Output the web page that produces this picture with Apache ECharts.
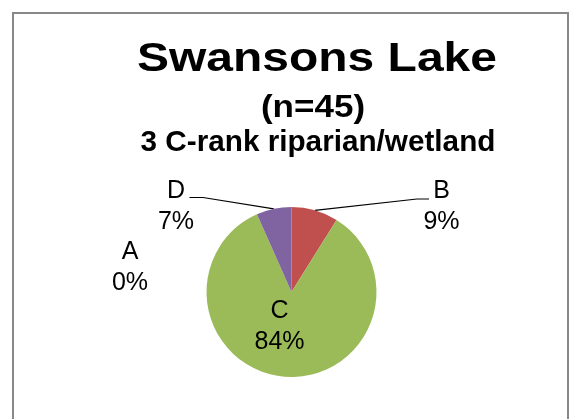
<!DOCTYPE html>
<html>
<head>
<meta charset="utf-8">
<script src="https://cdn.jsdelivr.net/npm/echarts@6/dist/echarts.min.js"></script>
<style>
  html, body { margin: 0; padding: 0; background: #fff; }
  #chart { width: 570px; height: 419px; }
</style>
</head>
<body>
<div id="chart"></div>
<script>
// Condition ranks of the sampled riparian/wetland plots
const categories = ['A', 'B', 'C', 'D'];
const counts = [0, 4, 38, 3];
const sliceColors = ['#4F81BD', '#C0504D', '#9BBB59', '#8064A2'];
const titleLines = ['Swansons Lake', '(n=45)', '3 C-rank riparian/wetland'];

const FONT = '"Liberation Sans", Arial, Helvetica, sans-serif';
const CX = 291.5, CY = 292, R = 85;

// where each label block sits, relative to the pie centre
const labelSpots = {
  A: { dx: -161.5, dy: -24 },
  B: { dx: 150, dy: -85.5, elbow: [125.5, -93], end: [137.5, -93] },
  C: { dx: -12, dy: 35 },
  D: { dx: -115.5, dy: -85.5, elbow: [-88.5, -94.5], end: [-102, -94.5] }
};

const total = counts.reduce((s, v) => s + v, 0);
// point on the rim at the middle of a slice (clockwise from 12 o'clock)
function rimPoint(idx) {
  let before = 0;
  for (let i = 0; i < idx; i++) before += counts[i];
  const mid = (before + counts[idx] / 2) / total * 2 * Math.PI;
  return [CX + R * Math.sin(mid), CY - R * Math.cos(mid)];
}

function titleText(text, x, y, size, stretch) {
  return {
    type: 'text', x: x, y: y, scaleX: stretch, silent: true,
    style: {
      text: text, font: 'bold ' + size + 'px ' + FONT, fill: '#000',
      align: 'center', verticalAlign: 'middle',
      textAlign: 'center', textVerticalAlign: 'middle'
    }
  };
}

const chart = echarts.init(document.getElementById('chart'), null, { renderer: 'canvas' });

const pieData = categories.map((name, i) => ({
  name: name,
  value: counts[i],
  itemStyle: { color: sliceColors[i] },
  label: { position: name === 'C' ? 'inside' : 'outside' },
  labelLine: { show: !!labelSpots[name].elbow }
}));

chart.setOption({
  animation: false,
  backgroundColor: '#ffffff',
  graphic: [
    {
      type: 'rect', silent: true, z: -10,
      shape: { x: 13, y: 13, width: 555, height: 440 },
      style: { fill: '#ffffff', stroke: '#888888', lineWidth: 2 }
    },
    titleText(titleLines[0], 317, 60, 41, 1.17),
    titleText(titleLines[1], 313, 108.5, 31, 1.13),
    titleText(titleLines[2], 318, 143, 30, 0.99)
  ],
  series: [{
    type: 'pie',
    center: [CX, CY],
    radius: R,
    startAngle: 90,
    clockwise: true,
    avoidLabelOverlap: false,
    percentPrecision: 0,
    itemStyle: { borderWidth: 0 },
    emphasis: { disabled: true },
    label: {
      show: true,
      formatter: '{b}\n{d}%',
      fontFamily: FONT,
      fontSize: 25,
      lineHeight: 31,
      color: '#000',
      align: 'center'
    },
    labelLine: {
      show: true,
      lineStyle: { color: '#000', width: 1.2 }
    },
    labelLayout: function (params) {
      const name = categories[params.dataIndex];
      const spot = labelSpots[name];
      const out = {
        x: CX + spot.dx,
        y: CY + spot.dy,
        align: 'center',
        verticalAlign: 'middle'
      };
      if (spot.elbow) {
        out.labelLinePoints = [
          rimPoint(params.dataIndex),
          [CX + spot.elbow[0], CY + spot.elbow[1]],
          [CX + spot.end[0], CY + spot.end[1]]
        ];
      }
      return out;
    },
    data: pieData
  }]
});
</script>
</body>
</html>
